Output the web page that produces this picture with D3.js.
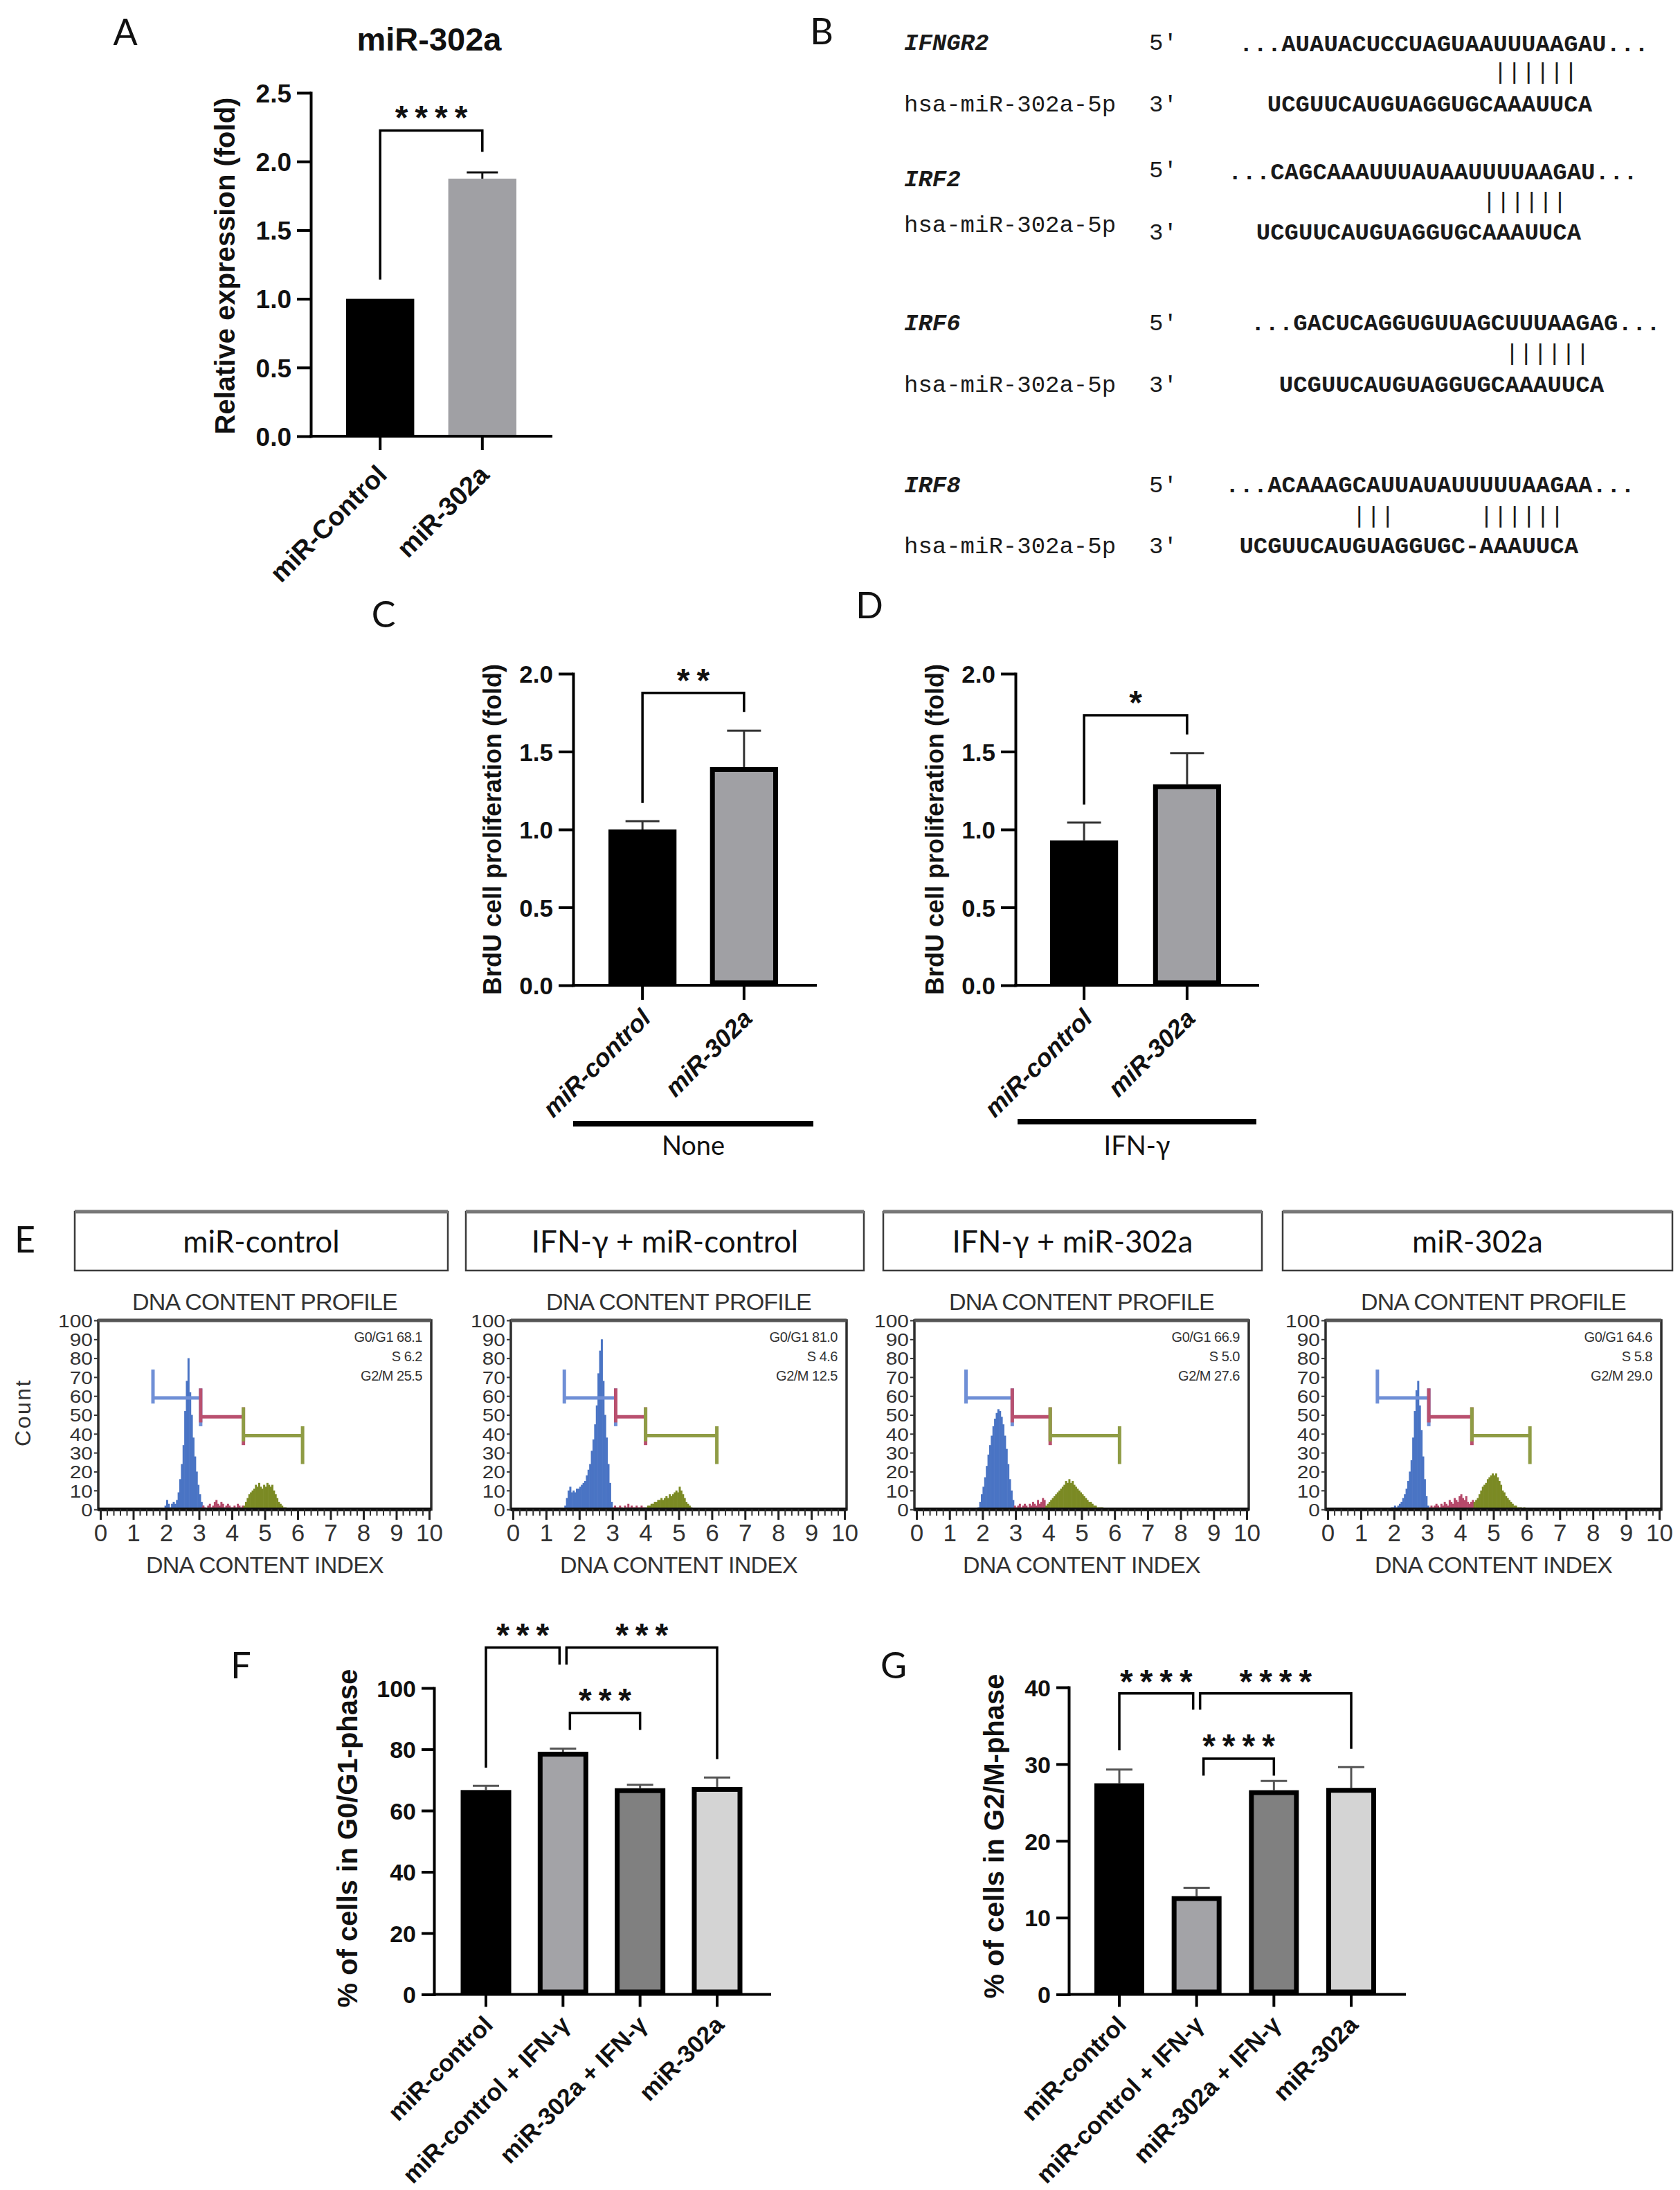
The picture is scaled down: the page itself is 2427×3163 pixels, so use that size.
<!DOCTYPE html>
<html>
<head>
<meta charset="utf-8">
<script src="https://cdn.jsdelivr.net/npm/d3@7/dist/d3.min.js"></script>
<style>
  body { margin: 0; background: #fff; }
</style>
</head>
<body>
<script>
// ---------- values ----------
// A: relative expression
var catsA = ["miR-Control", "miR-302a"];
var valsA = [1.0, 1.875];
var errA = [0, 0.045];
var ticksA = [0, 0.5, 1.0, 1.5, 2.0, 2.5];

// C / D: BrdU proliferation
var catsCD = ["miR-control", "miR-302a"];
var valsC = [1.0, 1.40];
var errC = [0.053, 0.235];
var valsD = [0.93, 1.29];
var errD = [0.115, 0.20];
var ticksCD = [0, 0.5, 1.0, 1.5, 2.0];

// F / G: cell cycle phases
var catsFG = ["miR-control", "miR-control + IFN-γ", "miR-302a + IFN-γ", "miR-302a"];
var valsF = [66.7, 79.2, 67.3, 67.7];
var errF = [1.4, 1.0, 1.1, 3.1];
var ticksF = [0, 20, 40, 60, 80, 100];
var valsG = [27.5, 12.8, 26.6, 26.9];
var errG = [1.8, 1.1, 1.2, 2.7];
var ticksG = [0, 10, 20, 30, 40];

// significance brackets (bar a -> bar b, feet, top, stars and their height)
var sigA = [{a: 0, b: 1, f1: 1.14, top: 2.225, f2: 2.07, t: "****", ty: 2.376}];
var sigC = [{a: 0, b: 1, f1: 1.17, top: 1.877, f2: 1.755, t: "**", ty: 2.01}];
var sigD = [{a: 0, b: 1, f1: 1.16, top: 1.733, f2: 1.61, t: "*", ty: 1.866}];
var sigF = [
    {a: 0, b: 1, db: -5, f1: 74.0, top: 113.2, f2: 107.6, t: "***", ty: 119.9},
    {a: 1, b: 3, da: 5, f1: 107.6, top: 113.2, f2: 76.8, t: "***", ty: 119.9},
    {a: 1, b: 2, da: 10, f1: 86.3, top: 91.8, f2: 86.3, t: "***", ty: 98.6}
];
var sigG = [
    {a: 0, b: 1, db: -5, f1: 31.8, top: 39.2, f2: 37.1, t: "****", ty: 41.8},
    {a: 1, b: 3, da: 5, f1: 37.1, top: 39.2, f2: 32.0, t: "****", ty: 41.8},
    {a: 1, b: 2, da: 10, f1: 28.5, top: 30.7, f2: 28.5, t: "****", ty: 33.4}
];

// B: target site alignments
var geneNames = ["IFNGR2", "IRF2", "IRF6", "IRF8"];
var mirName = "hsa-miR-302a-5p";
var targetSeqs = [
    "...AUAUACUCCUAGUAAUUUAAGAU...",
    "...CAGCAAAUUUAUAAUUUUAAGAU...",
    "...GACUCAGGUGUUAGCUUUAAGAG...",
    "...ACAAAGCAUUAUAUUUUUAAGAA..."
];
var mirSeqs = [
    "UCGUUCAUGUAGGUGCAAAUUCA",
    "UCGUUCAUGUAGGUGCAAAUUCA",
    "UCGUUCAUGUAGGUGCAAAUUCA",
    "UCGUUCAUGUAGGUGC-AAAUUCA"
];
var mirOffset = [2, 2, 2, 1];
var pairIdx = [
    [18, 19, 20, 21, 22, 23],
    [18, 19, 20, 21, 22, 23],
    [18, 19, 20, 21, 22, 23],
    [9, 10, 11, 18, 19, 20, 21, 22, 23]
];

// E: DNA content profiles
var profileNames = ["miR-control", "IFN-γ + miR-control", "IFN-γ + miR-302a", "miR-302a"];
var g0g1 = ["68.1", "81.0", "66.9", "64.6"];
var sPhase = ["6.2", "4.6", "5.0", "5.8"];
var g2m = ["25.5", "12.5", "27.6", "29.0"];
var indexTicks = [0, 1, 2, 3, 4, 5, 6, 7, 8, 9, 10];
var countTicks = [0, 10, 20, 30, 40, 50, 60, 70, 80, 90, 100];
var gateEdges = [
    [1.6, 3.05, 4.35, 6.15],
    [1.55, 3.1, 4.0, 6.15],
    [1.5, 2.9, 4.05, 6.15],
    [1.5, 3.05, 4.35, 6.1]
];
var gateLevels = [59, 49, 39];
var binWidth = 0.05;

var blueStart = [1.95, 1.55, 1.85, 1.9];
var blueCounts = [
    [2, 5, 3, 1, 3, 4, 3, 5, 9, 16, 24, 34, 52, 68, 80, 62, 50, 38, 28, 20, 13, 8, 4, 2],
    [2, 6, 10, 12, 9, 10, 9, 11, 11, 12, 13, 14, 15, 18, 21, 24, 31, 37, 45, 55, 72, 84, 90, 68, 50, 38, 24, 14, 4],
    [1, 4, 8, 12, 17, 23, 29, 34, 39, 44, 48, 51, 53, 52, 49, 45, 39, 32, 24, 16, 10, 5, 1],
    [1, 1, 2, 1, 2, 3, 4, 6, 8, 11, 15, 20, 26, 38, 52, 63, 68, 55, 42, 28, 16, 7, 2]
];
var redStart = [3.05, 3.0, 2.95, 3.05];
var redCounts = [
    [1, 2, 1, 0, 2, 3, 1, 2, 4, 5, 3, 2, 4, 3, 1, 2, 3, 2, 1, 1, 2, 1, 3, 2, 1, 2],
    [1, 2, 1, 1, 2, 1, 0, 2, 1, 3, 1, 2, 1, 1, 2, 1, 1, 2, 1, 1],
    [2, 1, 2, 3, 1, 2, 3, 2, 1, 3, 2, 4, 3, 2, 5, 3, 4, 6, 5],
    [1, 2, 1, 2, 3, 2, 1, 3, 2, 4, 3, 2, 5, 4, 3, 6, 5, 4, 7, 8, 6, 5, 7, 4, 3, 4, 5]
];
var greenStart = [4.35, 4.0, 3.9, 4.4];
var greenCounts = [
    [2, 4, 6, 8, 9, 10, 11, 13, 12, 14, 12, 11, 13, 12, 14, 13, 12, 13, 10, 8, 6, 4, 3, 2, 1, 1],
    [1, 2, 2, 3, 3, 4, 4, 5, 5, 6, 5, 6, 7, 6, 8, 7, 8, 9, 10, 9, 12, 10, 8, 6, 4, 3, 2, 1],
    [2, 3, 4, 5, 6, 7, 8, 9, 10, 11, 12, 13, 15, 14, 16, 14, 15, 13, 12, 11, 10, 9, 8, 7, 6, 5, 4, 4, 3, 2, 2, 1, 1, 1, 1],
    [4, 5, 6, 8, 10, 12, 13, 14, 16, 17, 18, 19, 18, 19, 17, 15, 13, 10, 9, 7, 6, 5, 4, 3, 2, 2, 1, 1, 1, 0, 1]
];

// ---------- drawing ----------
var W = 2427, H = 3163;
var sans = "'Liberation Sans', Arial, sans-serif";
var soft = "Lato, 'Open Sans', sans-serif";
var mono = "'Liberation Mono', 'DejaVu Sans Mono', monospace";

var svg = d3.select("body").append("svg").attr("width", W).attr("height", H)
    .attr("font-family", sans);
svg.append("rect").attr("width", W).attr("height", H).attr("fill", "#fff");

function panelLetter(t, x, y) {
    svg.append("text").attr("x", x).attr("y", y).attr("text-anchor", "middle")
        .attr("font-family", soft).attr("font-size", 52).attr("fill", "#111").text(t);
}

function barPanel(p) {
    var g = svg.append("g");
    var y = d3.scaleLinear().domain(p.domain).range([p.base, p.top]);
    var x = d3.scaleBand().domain(p.cats).range(p.band).paddingInner(p.pad).paddingOuter(0);
    var bw = x.bandwidth();
    var cx = i => x(p.cats[i]) + bw / 2;

    // error bars, under the bars
    var eg = g.append("g").attr("stroke", p.errColor).attr("stroke-width", 3);
    p.vals.forEach((v, i) => {
        var e = p.errs[i];
        if (!e) return;
        eg.append("line").attr("x1", cx(i)).attr("x2", cx(i)).attr("y1", y(v)).attr("y2", y(v + e));
        eg.append("line").attr("x1", cx(i) - p.cap / 2).attr("x2", cx(i) + p.cap / 2)
            .attr("y1", y(v + e)).attr("y2", y(v + e));
    });

    g.selectAll(".bar").data(p.vals).enter().append("rect")
        .attr("x", (d, i) => x(p.cats[i]) + p.sw[i] / 2)
        .attr("width", (d, i) => bw - p.sw[i])
        .attr("y", (d, i) => y(d) + p.sw[i] / 2)
        .attr("height", (d, i) => p.base - y(d) - p.sw[i])
        .attr("fill", (d, i) => p.fills[i])
        .attr("stroke", "#000")
        .attr("stroke-width", (d, i) => p.sw[i]);

    // y axis
    var ya = g.append("g").attr("transform", "translate(" + p.axX + ",0)")
        .call(d3.axisLeft(y).tickValues(p.ticks).tickFormat(p.fmt)
            .tickSize(p.tickLen).tickSizeOuter(0).tickPadding(8));
    ya.attr("font-family", sans).attr("font-size", p.tickFs).attr("font-weight", "bold");
    ya.select(".domain").attr("stroke-width", 4).attr("stroke-linecap", "square");
    ya.selectAll(".tick line").attr("stroke-width", 4);
    ya.selectAll(".tick text").attr("fill", "#111").attr("dy", "0.36em");

    // x axis
    g.append("line").attr("x1", p.axX).attr("x2", p.axEnd).attr("y1", p.base).attr("y2", p.base)
        .attr("stroke", "#000").attr("stroke-width", 4).attr("stroke-linecap", "square");
    var xa = g.append("g").attr("transform", "translate(0," + p.base + ")")
        .call(d3.axisBottom(x).tickSize(p.tickLen).tickSizeOuter(0));
    xa.select(".domain").remove();
    xa.attr("font-family", sans).attr("font-size", p.lblFs).attr("font-weight", "bold");
    xa.selectAll(".tick line").attr("stroke-width", 4);
    xa.selectAll(".tick text")
        .attr("x", 0).attr("y", 0).attr("dy", null)
        .attr("fill", "#111")
        .attr("font-style", p.italic ? "italic" : null)
        .attr("text-anchor", "end")
        .attr("transform", "translate(" + p.lblDx + "," + p.lblDy + ") rotate(-45)");

    // significance brackets
    var starFs = 48, starLs = 10;
    p.sig.forEach(b => {
        var x1 = cx(b.a) + (b.da || 0), x2 = cx(b.b) + (b.db || 0);
        g.append("path")
            .attr("d", "M" + x1 + "," + y(b.f1) + "V" + y(b.top) + "H" + x2 + "V" + y(b.f2))
            .attr("fill", "none").attr("stroke", "#000").attr("stroke-width", 3.5);
        g.append("text")
            .attr("x", (x1 + x2) / 2 + starLs / 2).attr("y", y(b.ty) + 0.58 * starFs)
            .attr("text-anchor", "middle").attr("font-size", starFs).attr("font-weight", "bold")
            .attr("letter-spacing", starLs).attr("fill", "#111").text(b.t);
    });

    // y title
    g.append("text").attr("transform", "translate(" + p.ylX + "," + p.ylY + ") rotate(-90)")
        .attr("text-anchor", "middle").attr("dy", "0.36em")
        .attr("font-size", p.ylFs).attr("font-weight", "bold").attr("fill", "#111").text(p.yLabel);
    return {x: x, y: y};
}

// ---- A ----
panelLetter("A", 181, 65);
svg.append("text").attr("x", 620).attr("y", 73).attr("text-anchor", "middle")
    .attr("font-size", 47).attr("font-weight", "bold").attr("fill", "#111").text("miR-302a");
barPanel({
    cats: catsA, vals: valsA, errs: errA, ticks: ticksA, fmt: d3.format(".1f"),
    domain: [0, 2.5], base: 630, top: 134, band: [500, 746], pad: 1 / 3,
    axX: 449, axEnd: 796, tickLen: 20, tickFs: 37,
    fills: ["#000", "#a0a0a4"], sw: [0, 0], errColor: "#111", cap: 45,
    lblFs: 38, lblDx: 12, lblDy: 58, italic: false,
    sig: sigA, yLabel: "Relative expression (fold)", ylX: 325, ylY: 384, ylFs: 40
});

// ---- B ----
panelLetter("B", 1187, 64);
var blockY = [
    {gene: 72, five: 72, seq: 74, pair: 114, hsa: 161, three: 161},
    {gene: 269, five: 256, seq: 259, pair: 301, hsa: 335, three: 346},
    {gene: 477, five: 477, seq: 477, pair: 520, hsa: 566, three: 566},
    {gene: 711, five: 711, seq: 711, pair: 755, hsa: 799, three: 799}
];
var seqX = [1790, 1774, 1807, 1770];
var charW = 34 * 0.6;
var bg = svg.append("g").attr("font-family", mono).attr("font-size", 34).attr("fill", "#1a1a1a");
geneNames.forEach((name, i) => {
    var L = blockY[i];
    bg.append("text").attr("x", 1306).attr("y", L.gene).attr("font-style", "italic")
        .attr("font-weight", "bold").text(name);
    bg.append("text").attr("x", 1660).attr("y", L.five).text("5'");
    bg.append("text").attr("x", seqX[i]).attr("y", L.seq).attr("font-weight", "bold").text(targetSeqs[i]);
    bg.selectAll(null).data(pairIdx[i]).enter().append("text")
        .attr("x", k => seqX[i] + k * charW + charW / 2).attr("y", L.pair)
        .attr("text-anchor", "middle").text("|");
    bg.append("text").attr("x", 1306).attr("y", L.hsa).text(mirName);
    bg.append("text").attr("x", 1660).attr("y", L.three).text("3'");
    bg.append("text").attr("x", seqX[i] + mirOffset[i] * charW).attr("y", L.three)
        .attr("font-weight", "bold").text(mirSeqs[i]);
});

// ---- C / D ----
panelLetter("C", 554, 906);
panelLetter("D", 1256, 893);
var yTitleCD = "BrdU cell proliferation (fold)";
barPanel({
    cats: catsCD, vals: valsC, errs: errC, ticks: ticksCD, fmt: d3.format(".1f"),
    domain: [0, 2], base: 1423, top: 973, band: [879, 1124], pad: 0.33,
    axX: 828, axEnd: 1178, tickLen: 21, tickFs: 35,
    fills: ["#000", "#a0a0a4"], sw: [0, 7], errColor: "#333", cap: 49,
    lblFs: 36, lblDx: 14, lblDy: 50, italic: true,
    sig: sigC, yLabel: yTitleCD, ylX: 711, ylY: 1198, ylFs: 36
});
barPanel({
    cats: catsCD, vals: valsD, errs: errD, ticks: ticksCD, fmt: d3.format(".1f"),
    domain: [0, 2], base: 1423, top: 973, band: [1517, 1764], pad: 0.34,
    axX: 1467, axEnd: 1817, tickLen: 21, tickFs: 35,
    fills: ["#000", "#a0a0a4"], sw: [0, 7], errColor: "#333", cap: 49,
    lblFs: 36, lblDx: 14, lblDy: 50, italic: true,
    sig: sigD, yLabel: yTitleCD, ylX: 1350, ylY: 1198, ylFs: 36
});
[[828, 1175, 1623, "None"], [1470, 1815, 1620, "IFN-γ"]].forEach(u => {
    svg.append("line").attr("x1", u[0]).attr("x2", u[1]).attr("y1", u[2]).attr("y2", u[2])
        .attr("stroke", "#000").attr("stroke-width", 8);
    svg.append("text").attr("x", (u[0] + u[1]) / 2).attr("y", 1668).attr("text-anchor", "middle")
        .attr("font-family", soft).attr("font-size", 38).attr("fill", "#111").text(u[3]);
});

// ---- E ----
panelLetter("E", 36, 1809);
var boxX = [[108, 647], [673, 1248], [1276, 1823], [1853, 2416]];
var plotX = [[145, 620], [741, 1220], [1324, 1801], [1918, 2397]];
var gateColors = ["#6f8fd6", "#b9506f", "#8f9c45"];
var fillColors = ["#4a74c4", "#b5496a", "#7b8a24"];

svg.append("text").attr("transform", "translate(32,2040) rotate(-90)").attr("text-anchor", "middle")
    .attr("dy", "0.36em").attr("font-size", 32).attr("letter-spacing", 2.5).attr("fill", "#333").text("Count");

profileNames.forEach((name, i) => {
    var g = svg.append("g");
    var bx = boxX[i];
    g.append("rect").attr("x", bx[0]).attr("y", 1750).attr("width", bx[1] - bx[0]).attr("height", 85)
        .attr("fill", "#fff").attr("stroke", "#3c3c3c").attr("stroke-width", 2.5);
    g.append("line").attr("x1", bx[0]).attr("x2", bx[1]).attr("y1", 1750).attr("y2", 1750)
        .attr("stroke", "#777").attr("stroke-width", 5);
    g.append("text").attr("x", (bx[0] + bx[1]) / 2).attr("y", 1809).attr("text-anchor", "middle")
        .attr("font-family", soft).attr("font-size", 44).attr("fill", "#111").text(name);

    var x = d3.scaleLinear().domain([0, 10]).range(plotX[i]);
    var y = d3.scaleLinear().domain([0, 100]).range([2180, 1907]);
    var mid = (plotX[i][0] + plotX[i][1]) / 2;

    g.append("text").attr("x", mid).attr("y", 1892).attr("text-anchor", "middle")
        .attr("font-size", 34).attr("letter-spacing", -0.8).attr("fill", "#333").text("DNA CONTENT PROFILE");
    g.append("text").attr("x", mid).attr("y", 2272).attr("text-anchor", "middle")
        .attr("font-size", 34).attr("letter-spacing", -0.8).attr("fill", "#333").text("DNA CONTENT INDEX");

    // histogram bins
    var series = [
        {start: blueStart[i], counts: blueCounts[i]},
        {start: redStart[i], counts: redCounts[i]},
        {start: greenStart[i], counts: greenCounts[i]}
    ];
    series.forEach((s, k) => {
        g.append("g").attr("fill", fillColors[k]).selectAll("rect").data(s.counts).enter().append("rect")
            .attr("x", (c, j) => x(s.start + j * binWidth))
            .attr("width", x(binWidth) - x(0) + 0.6)
            .attr("y", c => y(c))
            .attr("height", c => y(0) - y(c));
    });

    // gate markers
    var e = gateEdges[i];
    gateLevels.forEach((lv, k) => {
        var gg = g.append("g").attr("stroke", gateColors[k]).attr("stroke-width", 5);
        gg.append("line").attr("x1", x(e[k])).attr("x2", x(e[k + 1])).attr("y1", y(lv)).attr("y2", y(lv));
        gg.append("line").attr("x1", x(e[k])).attr("x2", x(e[k])).attr("y1", y(lv - 3)).attr("y2", y(lv + 15));
        gg.append("line").attr("x1", x(e[k + 1])).attr("x2", x(e[k + 1])).attr("y1", y(lv - 15)).attr("y2", y(lv + 5));
    });

    // statistics
    var st = g.append("g").attr("font-size", 20).attr("fill", "#333").attr("text-anchor", "end")
        .attr("letter-spacing", -0.5);
    st.append("text").attr("x", plotX[i][1] - 10).attr("y", 1938).text("G0/G1 " + g0g1[i]);
    st.append("text").attr("x", plotX[i][1] - 10).attr("y", 1966).text("S " + sPhase[i]);
    st.append("text").attr("x", plotX[i][1] - 10).attr("y", 1994).text("G2/M " + g2m[i]);

    // frame
    g.append("rect").attr("x", plotX[i][0] - 3).attr("y", y(100))
        .attr("width", plotX[i][1] - plotX[i][0] + 6).attr("height", y(0) - y(100))
        .attr("fill", "none").attr("stroke", "#2e2e2e").attr("stroke-width", 3.5);
    g.append("line").attr("x1", plotX[i][0] - 3).attr("x2", plotX[i][1] + 3).attr("y1", y(100)).attr("y2", y(100))
        .attr("stroke", "#555").attr("stroke-width", 5);
    g.append("line").attr("x1", plotX[i][0] - 3).attr("x2", plotX[i][1] + 3).attr("y1", y(0)).attr("y2", y(0))
        .attr("stroke", "#111").attr("stroke-width", 5);

    // axes
    var minor = g.append("g").attr("transform", "translate(0," + y(0) + ")")
        .call(d3.axisBottom(x).ticks(50).tickSize(9).tickFormat(""));
    minor.select(".domain").remove();
    minor.selectAll(".tick line").attr("stroke", "#333").attr("stroke-width", 2);
    var xa = g.append("g").attr("transform", "translate(0," + y(0) + ")")
        .call(d3.axisBottom(x).tickValues(indexTicks).tickSize(15).tickPadding(6).tickFormat(d3.format("d")));
    xa.select(".domain").remove();
    xa.attr("font-family", sans).attr("font-size", 35);
    xa.selectAll(".tick line").attr("stroke", "#222").attr("stroke-width", 3);
    xa.selectAll(".tick text").attr("fill", "#333");

    var ya = g.append("g").attr("transform", "translate(" + (plotX[i][0] - 3) + ",0)")
        .call(d3.axisLeft(y).tickValues(countTicks).tickSize(6).tickPadding(1).tickFormat(d3.format("d")));
    ya.select(".domain").remove();
    ya.attr("font-family", sans).attr("font-size", 26);
    ya.selectAll(".tick line").attr("stroke", "#333").attr("stroke-width", 2);
    ya.selectAll(".tick text").attr("fill", "#333").attr("dy", "0.36em")
        .attr("transform", "scale(1.15,1)");
});

// ---- F / G ----
panelLetter("F", 348, 2424);
panelLetter("G", 1291, 2424);
barPanel({
    cats: catsFG, vals: valsF, errs: errF, ticks: ticksF, fmt: d3.format("d"),
    domain: [0, 100], base: 2880.5, top: 2438, band: [665.5, 1072.5], pad: 0.344,
    axX: 627, axEnd: 1112, tickLen: 18, tickFs: 34,
    fills: ["#000", "#a3a3a7", "#808080", "#d4d4d4"], sw: [0, 7, 7, 7], errColor: "#555", cap: 38,
    lblFs: 35, lblDx: 12, lblDy: 46, italic: false,
    sig: sigF, yLabel: "% of cells in G0/G1-phase", ylX: 502, ylY: 2655, ylFs: 40
});
barPanel({
    cats: catsFG, vals: valsG, errs: errG, ticks: ticksG, fmt: d3.format("d"),
    domain: [0, 40], base: 2880.5, top: 2437, band: [1581, 1988], pad: 0.355,
    axX: 1544, axEnd: 2029, tickLen: 18, tickFs: 34,
    fills: ["#000", "#a3a3a7", "#808080", "#d4d4d4"], sw: [0, 7, 7, 7], errColor: "#555", cap: 38,
    lblFs: 35, lblDx: 12, lblDy: 46, italic: false,
    sig: sigG, yLabel: "% of cells in G2/M-phase", ylX: 1436, ylY: 2652, ylFs: 40
});
</script>
</body>
</html>
